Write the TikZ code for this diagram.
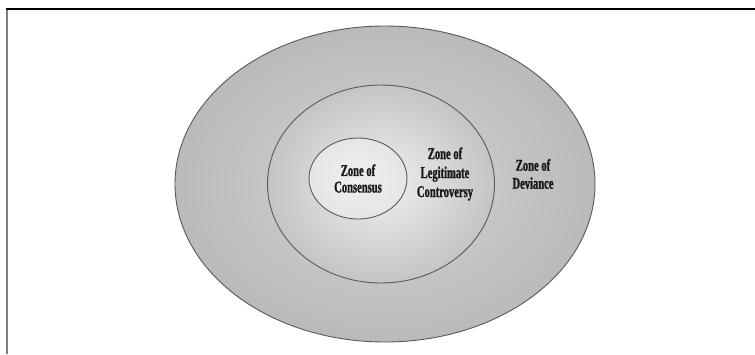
\documentclass[tikz,border=0pt]{standalone}
\usepackage{fontspec}
\newfontfamily\zonefont[FakeStretch=0.64,FakeBold=1.2]{Liberation Serif}
\usetikzlibrary{positioning}
\usetikzlibrary{shapes.geometric}

\begin{document}
\begin{tikzpicture}[
    x=1pt, y=-1pt,
    zone/.style={draw=black!65,line width=0.9pt,ellipse,inner sep=0pt,shading=radial},
    zonetext/.style={font=\zonefont\bfseries\fontsize{16.5}{19}\selectfont,align=center,text=black!90}
    ]

    \useasboundingbox (0,0) rectangle (755,354);
    \draw[black!50,line width=2pt] (7,9) -- (7,354);
    \draw[black,line width=2pt] (6,9) -- (755,9);

    \node[zone, inner color=black!17, outer color=black!27, minimum width=420pt, minimum height=316pt] (deviance) at (385,184) {};
    \node[zone, inner color=black!6, outer color=black!23, minimum width=227pt, minimum height=198pt] (controversy) at (381,184) {};
    \node[zone, inner color=black!6, outer color=black!10, minimum width=98pt, minimum height=81pt] (consensus) at (358,178.5) {};

    \node[zonetext, font=\zonefont\bfseries\fontsize{16.5}{16.5}\selectfont] (consensustext) at (consensus) {Zone of\\Consensus};
    \node[zonetext] (controversytext) at (445,174) {Zone of\\Legitimate\\Controversy};
    \node[zonetext, font=\zonefont\bfseries\fontsize{16.5}{18}\selectfont] (deviancetext) at (533,174) {Zone of\\Deviance};

  \end{tikzpicture}
\end{document}
